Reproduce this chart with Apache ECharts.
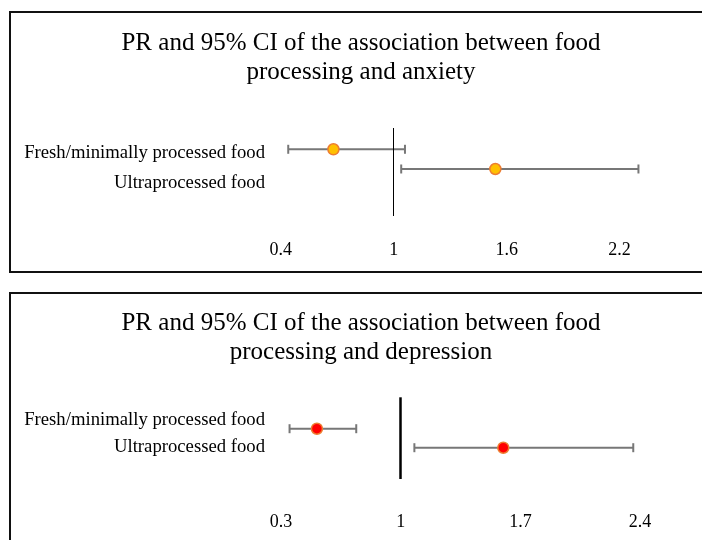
<!DOCTYPE html>
<html>
<head>
<meta charset="utf-8">
<script src="https://cdn.jsdelivr.net/npm/echarts@6.0.0/dist/echarts.min.js"></script>
<style>
html,body{margin:0;padding:0;background:#fff;overflow:hidden;}
#chart{width:702px;height:540px;}
</style>
</head>
<body>
<div id="chart"></div>
<script>
// ---- data ----
const categories = ['Fresh/minimally processed food', 'Ultraprocessed food'];
const anxietyPR   = [0.68, 1.54];
const anxietyLow  = [0.44, 1.04];
const anxietyHigh = [1.06, 2.30];
const depressionPR   = [0.51, 1.60];
const depressionLow  = [0.35, 1.08];
const depressionHigh = [0.74, 2.36];
const anxietyTicks = [0.4, 1, 1.6, 2.2];
const depressionTicks = [0.3, 1, 1.7, 2.4];
const anxietyTitle = 'PR and 95% CI of the association between food\nprocessing and anxiety';
const depressionTitle = 'PR and 95% CI of the association between food\nprocessing and depression';
const referenceValue = 1;

const FONT = 'Liberation Serif';

function errorBars(gridIdx, low, high) {
  return {
    type: 'custom',
    xAxisIndex: gridIdx, yAxisIndex: gridIdx,
    silent: true,
    data: categories.map((c, i) => [i, low[i], high[i]]),
    encode: {x: [1, 2], y: 0},
    renderItem: function (params, api) {
      const idx = api.value(0);
      const p1 = api.coord([api.value(1), idx]);
      const p2 = api.coord([api.value(2), idx]);
      const cap = 4.5;
      const st = {stroke: '#777777', lineWidth: 2};
      return {
        type: 'group',
        children: [
          {type: 'line', shape: {x1: p1[0], y1: p1[1], x2: p2[0], y2: p2[1]}, style: st},
          {type: 'line', shape: {x1: p1[0], y1: p1[1] - cap, x2: p1[0], y2: p1[1] + cap}, style: st},
          {type: 'line', shape: {x1: p2[0], y1: p2[1] - cap, x2: p2[0], y2: p2[1] + cap}, style: st}
        ]
      };
    },
    z: 2
  };
}

function points(gridIdx, pr, fill, refWidth) {
  return {
    type: 'scatter',
    xAxisIndex: gridIdx, yAxisIndex: gridIdx,
    data: categories.map((c, i) => [pr[i], i]),
    symbol: 'circle',
    symbolSize: 11,
    itemStyle: {color: fill, borderColor: '#ED7D31', borderWidth: 1.5, opacity: 1},
    z: 5,
    markLine: {
      silent: true,
      symbol: ['none', 'none'],
      label: {show: false},
      lineStyle: {color: '#000', width: refWidth, type: 'solid'},
      data: [{xAxis: referenceValue}]
    }
  };
}

function valueX(gridIdx, min, max, ticks, margin) {
  return {
    type: 'value', gridIndex: gridIdx, min: min, max: max,
    axisLine: {show: false}, axisTick: {show: false}, splitLine: {show: false},
    axisLabel: {
      show: true, customValues: ticks, margin: margin,
      fontFamily: FONT, fontSize: 18, color: '#000'
    }
  };
}
function hiddenX(gridIdx) {
  return {type: 'value', gridIndex: gridIdx, show: false, min: 0, max: 1};
}
function hiddenY(gridIdx, min, max) {
  return {type: 'value', gridIndex: gridIdx, show: false, inverse: true, min: min, max: max};
}
function labelY(gridIdx) {
  return {
    type: 'category', gridIndex: gridIdx, data: categories, inverse: true,
    axisLine: {show: false}, axisTick: {show: false}, splitLine: {show: false},
    axisLabel: {margin: 8, fontFamily: FONT, fontSize: 18.7, color: '#000'}
  };
}

const titleStyle = {fontFamily: FONT, fontSize: 25, fontWeight: 'normal', color: '#000', lineHeight: 29};

const option = {
  backgroundColor: '#fff',
  animation: false,
  title: [
    {text: anxietyTitle, left: 361, top: 29, textAlign: 'center', padding: 0, textStyle: titleStyle},
    {text: depressionTitle, left: 361, top: 309, textAlign: 'center', padding: 0, textStyle: titleStyle}
  ],
  graphic: [
    {type: 'rect', silent: true, z: 0, shape: {x: 10, y: 12, width: 720, height: 260},
     style: {fill: 'none', stroke: '#111', lineWidth: 2}},
    {type: 'rect', silent: true, z: 0, shape: {x: 10, y: 293, width: 720, height: 300},
     style: {fill: 'none', stroke: '#111', lineWidth: 2}}
  ],
  grid: [
    {left: 280.7, right: 25.9, top: 128, height: 88},
    {left: 273, width: 5, top: 138.5, height: 60},
    {left: 281, right: 44.8, top: 397.3, height: 81.7},
    {left: 273, width: 5, top: 406.5, height: 54}
  ],
  xAxis: [
    valueX(0, 0.4, 2.5, anxietyTicks, 25),
    hiddenX(1),
    valueX(2, 0.3, 2.5, depressionTicks, 34),
    hiddenX(3)
  ],
  yAxis: [
    hiddenY(0, -1.08, 3.386),
    labelY(1),
    hiddenY(2, -1.653, 2.647),
    labelY(3)
  ],
  series: [
    errorBars(0, anxietyLow, anxietyHigh),
    points(0, anxietyPR, '#FFC000', 1),
    errorBars(2, depressionLow, depressionHigh),
    points(2, depressionPR, '#FF0000', 2.5)
  ]
};

const chart = echarts.init(document.getElementById('chart'), null, {renderer: 'canvas'});
chart.setOption(option);
</script>
</body>
</html>
